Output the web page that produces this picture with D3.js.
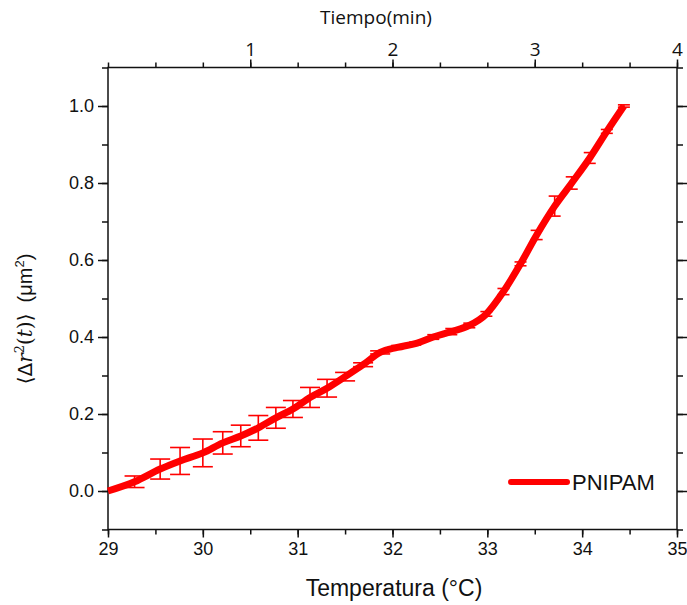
<!DOCTYPE html>
<html>
<head>
<meta charset="utf-8">
<script src="https://cdn.jsdelivr.net/npm/d3@7"></script>
<style>
  body { margin: 0; background: #fff; }
  svg { display: block; }
  .axis text { font-family: "Liberation Sans", Arial, sans-serif; fill: #111; }
  .top-axis text { font-family: "Open Sans", sans-serif; }
</style>
</head>
<body>
<div id="chart"></div>
<script>
// temperature (°C) of each measured point
var temps = [29.0, 29.28, 29.55, 29.76, 30.0, 30.21, 30.40, 30.585, 30.77, 30.95, 31.13, 31.31, 31.50, 31.69, 31.87,
             32.05, 32.24, 32.43, 32.62, 32.81, 32.99, 33.17, 33.35, 33.52, 33.71, 33.89, 34.08, 34.26, 34.44];
// mean square displacement (um^2)
var msd = [0.0, 0.024, 0.057, 0.078, 0.099, 0.125, 0.143, 0.164, 0.19, 0.213, 0.243, 0.267, 0.297, 0.328, 0.360,
           0.373, 0.383, 0.40, 0.414, 0.43, 0.46, 0.518, 0.59, 0.665, 0.74, 0.80, 0.865, 0.934, 1.0];
// error bar half-heights
var errs = [0, 0.015, 0.026, 0.035, 0.036, 0.029, 0.028, 0.032, 0.027, 0.022, 0.026, 0.023, 0.011, 0.005, 0.004,
            0.005, 0.004, 0.006, 0.008, 0.006, 0.006, 0.008, 0.005, 0.012, 0.026, 0.016, 0.014, 0.005, 0.003];

var xTicks = [29, 30, 31, 32, 33, 34, 35];
var yTicks = [0, 0.2, 0.4, 0.6, 0.8, 1.0];
var timeTicks = [1, 2, 3, 4];
var seriesName = 'PNIPAM';

var width = 687, height = 605;
var pLeft = 108, pRight = 677, pTop = 67.5, pBottom = 529.5;

var svg = d3.select('#chart').append('svg')
  .attr('width', width)
  .attr('height', height);

var x = d3.scaleLinear().domain([29, 35]).range([pLeft, pRight]);
var xt = d3.scaleLinear().domain([0, 4]).range([pLeft, pRight]);
var y = d3.scaleLinear().domain([-0.1, 1.1]).range([pBottom, pTop]);

var xMinor = d3.range(29, 35.01, 0.5);
var yMinor = d3.range(-0.1, 1.101, 0.1).map(function(d){ return +d.toFixed(2); });
var tMinor = d3.range(0, 4.01, 1/3);

// bottom axis
svg.append('g').attr('class', 'axis')
  .attr('transform', 'translate(0,' + pBottom + ')')
  .call(d3.axisBottom(x).tickValues(xMinor).tickSize(5).tickFormat(''))
  .call(function(g){ g.select('.domain').remove(); });
svg.append('g').attr('class', 'axis')
  .attr('transform', 'translate(0,' + pBottom + ')')
  .call(d3.axisBottom(x).tickValues(xTicks).tickSize(8).tickPadding(5).tickFormat(d3.format('d')))
  .call(function(g){ g.select('.domain').remove(); g.selectAll('text').style('font-size', '18px'); });

// left axis
svg.append('g').attr('class', 'axis')
  .attr('transform', 'translate(' + pLeft + ',0)')
  .call(d3.axisLeft(y).tickValues(yMinor).tickSize(6).tickFormat(''))
  .call(function(g){ g.select('.domain').remove(); });
svg.append('g').attr('class', 'axis')
  .attr('transform', 'translate(' + pLeft + ',0)')
  .call(d3.axisLeft(y).tickValues(yTicks).tickSize(10).tickPadding(4).tickFormat(d3.format('.1f')))
  .call(function(g){ g.select('.domain').remove(); g.selectAll('text').style('font-size', '18px'); });

// right axis (ticks only)
svg.append('g').attr('class', 'axis')
  .attr('transform', 'translate(' + pRight + ',0)')
  .call(d3.axisRight(y).tickValues(yMinor).tickSize(6).tickFormat(''))
  .call(function(g){ g.select('.domain').remove(); });
svg.append('g').attr('class', 'axis')
  .attr('transform', 'translate(' + pRight + ',0)')
  .call(d3.axisRight(y).tickValues(yTicks).tickSize(10).tickFormat(''))
  .call(function(g){ g.select('.domain').remove(); });

// top axis (time)
svg.append('g').attr('class', 'axis top-axis')
  .attr('transform', 'translate(0,' + pTop + ')')
  .call(d3.axisTop(xt).tickValues(tMinor).tickSize(5).tickFormat(''))
  .call(function(g){ g.select('.domain').remove(); });
svg.append('g').attr('class', 'axis top-axis')
  .attr('transform', 'translate(0,' + pTop + ')')
  .call(d3.axisTop(xt).tickValues(timeTicks).tickSize(8).tickPadding(4).tickFormat(d3.format('d')))
  .call(function(g){ g.select('.domain').remove(); g.selectAll('text').style('font-size', '19px'); });

svg.selectAll('.axis .tick line').attr('stroke', '#111').attr('stroke-width', 1.5);

// frame
svg.append('rect')
  .attr('x', pLeft).attr('y', pTop)
  .attr('width', pRight - pLeft).attr('height', pBottom - pTop)
  .attr('fill', 'none').attr('stroke', '#111').attr('stroke-width', 1.5);

// axis titles
svg.append('text')
  .attr('x', 376).attr('y', 24)
  .attr('text-anchor', 'middle')
  .style('font-family', '"Open Sans", sans-serif')
  .style('font-size', '19px')
  .attr('fill', '#111')
  .text('Tiempo(min)');

svg.append('text')
  .attr('x', 394).attr('y', 596)
  .attr('text-anchor', 'middle')
  .style('font-family', '"Liberation Sans", Arial, sans-serif')
  .style('font-size', '23px')
  .attr('fill', '#111')
  .text('Temperatura (°C)');

var yl = svg.append('text')
  .attr('transform', 'translate(32,319) rotate(-90)')
  .attr('text-anchor', 'middle')
  .style('font-family', '"DejaVu Serif", "Liberation Sans", serif')
  .style('font-size', '20px')
  .attr('fill', '#111');
yl.append('tspan').style('font-family', '"DejaVu Sans", sans-serif').text('\u27E8\u0394');
yl.append('tspan').style('font-style', 'italic').text('r');
yl.append('tspan').attr('dy', -8).style('font-size', '13px').text('2');
yl.append('tspan').attr('dy', 8).text('(');
yl.append('tspan').style('font-style', 'italic').text('t');
yl.append('tspan').text(')');
yl.append('tspan').style('font-family', '"DejaVu Sans", sans-serif').text('\u27E9');
yl.append('tspan').style('font-family', '"Liberation Sans", Arial, sans-serif').text('\u00A0\u00A0(\u03BCm');
yl.append('tspan').attr('dy', -8).style('font-family', '"Liberation Sans", Arial, sans-serif').style('font-size', '13px').text('2');
yl.append('tspan').attr('dy', 8).style('font-family', '"Liberation Sans", Arial, sans-serif').text(')');

// data
var pts = temps.map(function(t, i){ return {t: t, v: msd[i], e: errs[i]}; });

var line = d3.line()
  .x(function(d){ return x(d.t); })
  .y(function(d){ return y(d.v); })
  .curve(d3.curveMonotoneX);

svg.append('path')
  .datum(pts)
  .attr('d', line)
  .attr('fill', 'none')
  .attr('stroke', '#ff0000')
  .attr('stroke-width', 7)
  .attr('stroke-linejoin', 'round');

var bars = svg.append('g')
  .attr('stroke', '#ff0000')
  .attr('stroke-width', 1.6)
  .selectAll('g')
  .data(pts.filter(function(d){ return d.e > 0; }))
  .enter().append('g');

bars.append('line')
  .attr('x1', function(d){ return x(d.t); })
  .attr('x2', function(d){ return x(d.t); })
  .attr('y1', function(d){ return y(d.v - d.e); })
  .attr('y2', function(d){ return y(d.v + d.e); });

function capHalf(d){ return d.t < 31.9 ? 10 : 6; }
[-1, 1].forEach(function(s){
  bars.append('line')
    .attr('x1', function(d){ return x(d.t) - capHalf(d); })
    .attr('x2', function(d){ return x(d.t) + capHalf(d); })
    .attr('y1', function(d){ return y(d.v + s * d.e); })
    .attr('y2', function(d){ return y(d.v + s * d.e); });
});

// legend
svg.append('line')
  .attr('x1', 511).attr('x2', 567)
  .attr('y1', 482).attr('y2', 482)
  .attr('stroke', '#ff0000').attr('stroke-width', 6)
  .attr('stroke-linecap', 'round');
svg.append('text')
  .attr('x', 572).attr('y', 490)
  .style('font-family', '"Liberation Sans", Arial, sans-serif')
  .style('font-size', '22px')
  .attr('fill', '#111')
  .text(seriesName);
</script>
</body>
</html>
